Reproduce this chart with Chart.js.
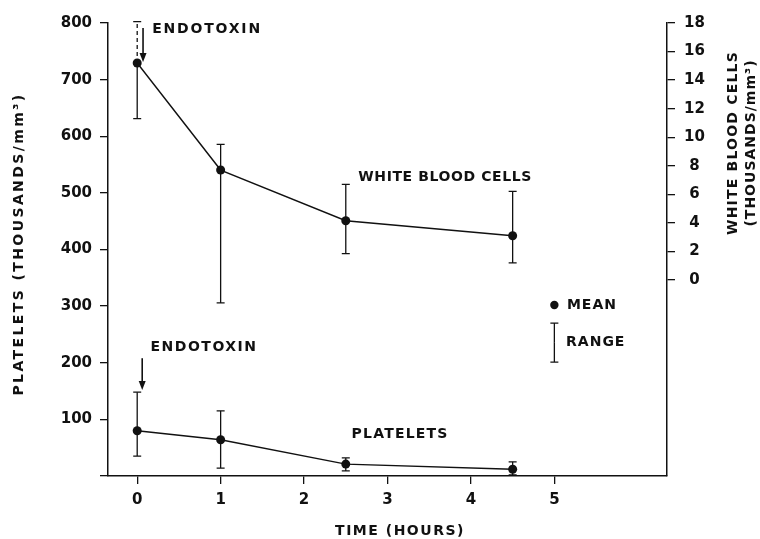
<!DOCTYPE html>
<html>
<head>
<meta charset="utf-8">
<script src="https://cdn.jsdelivr.net/npm/chart.js@4"></script>
<style>
  html, body { margin: 0; padding: 0; background: #fff; }
  #wrap { width: 760px; height: 539px; }
</style>
</head>
<body>
<div id="wrap"><canvas id="chart" width="760" height="539"></canvas></div>
<script>
// ---------- DATA ----------
const hours = [0, 1, 2.5, 4.5];
const hourTicks = [0, 1, 2, 3, 4, 5];

// white blood cells, thousands/mm3 (right axis)
const wbcMean = [15.2, 7.7, 4.15, 3.1];
const wbcLow = [11.3, -1.6, 1.85, 1.2];
const wbcHigh = [18.1, 9.5, 6.7, 6.2];
const wbcTicks = [0, 2, 4, 6, 8, 10, 12, 14, 16, 18];

// platelets, thousands/mm3 (left axis)
const plateletMean = [80, 64, 21, 12];
const plateletLow = [35, 14, 9, 2];
const plateletHigh = [148, 115, 32, 25];
const plateletTicks = [0, 100, 200, 300, 400, 500, 600, 700, 800];

const INK = "#111";
const FONT = "'DejaVu Sans', 'Liberation Sans', sans-serif";

// ---------- HELPERS ----------
function toPoints(xs, ys) {
  return xs.map((x, i) => ({ x: x, y: ys[i] }));
}

function label(ctx, text, x, y, align, spacing) {
  ctx.letterSpacing = (spacing || 1) + "px";
  ctx.textAlign = align || "left";
  ctx.textBaseline = "middle";
  ctx.fillText(text, x, y);
}

function arrowDown(ctx, x, y1, y2) {
  ctx.beginPath();
  ctx.moveTo(x, y1);
  ctx.lineTo(x, y2 - 7);
  ctx.stroke();
  ctx.beginPath();
  ctx.moveTo(x - 3.5, y2 - 9);
  ctx.lineTo(x + 3.5, y2 - 9);
  ctx.lineTo(x, y2);
  ctx.closePath();
  ctx.fill();
}

function rangeBar(ctx, x, yTop, yBottom, yMid, dashedTop) {
  ctx.setLineDash(dashedTop ? [4, 3] : []);
  ctx.beginPath();
  ctx.moveTo(x, yMid);
  ctx.lineTo(x, yTop);
  ctx.stroke();
  ctx.setLineDash([]);
  ctx.beginPath();
  ctx.moveTo(x, yMid);
  ctx.lineTo(x, yBottom);
  ctx.moveTo(x - 4, yTop);
  ctx.lineTo(x + 4, yTop);
  ctx.moveTo(x - 4, yBottom);
  ctx.lineTo(x + 4, yBottom);
  ctx.stroke();
}

// ---------- OVERLAY: RANGES, ARROWS, LABELS ----------
const overlay = {
  id: "overlay",
  afterDatasetsDraw(chart) {
    const ctx = chart.ctx;
    const sx = chart.scales.x, sy = chart.scales.y, sw = chart.scales.y2;
    ctx.save();
    ctx.strokeStyle = INK;
    ctx.fillStyle = INK;
    ctx.lineWidth = 1.3;

    hours.forEach((h, i) => {
      const px = sx.getPixelForValue(h);
      rangeBar(ctx, px, sw.getPixelForValue(wbcHigh[i]), sw.getPixelForValue(wbcLow[i]),
        sw.getPixelForValue(wbcMean[i]), i === 0);
      rangeBar(ctx, px, sy.getPixelForValue(plateletHigh[i]), sy.getPixelForValue(plateletLow[i]),
        sy.getPixelForValue(plateletMean[i]), false);
    });

    // endotoxin arrows
    ctx.lineWidth = 1.6;
    arrowDown(ctx, sx.getPixelForValue(0.07), sy.getPixelForValue(791), sy.getPixelForValue(731));
    arrowDown(ctx, sx.getPixelForValue(0.06), sy.getPixelForValue(208), sy.getPixelForValue(152));

    ctx.font = "bold 14px " + FONT;
    label(ctx, "ENDOTOXIN", sx.getPixelForValue(0.18), sy.getPixelForValue(788), "left", 1.8);
    label(ctx, "ENDOTOXIN", sx.getPixelForValue(0.16), sy.getPixelForValue(228), "left", 1.5);
    label(ctx, "WHITE BLOOD CELLS", sx.getPixelForValue(2.65), sy.getPixelForValue(528), "left", 0.6);
    label(ctx, "PLATELETS", sx.getPixelForValue(2.57), sy.getPixelForValue(74), "left", 1.2);

    // key
    const kx = sx.getPixelForValue(5.0);
    ctx.beginPath();
    ctx.arc(kx, sy.getPixelForValue(302), 4.2, 0, Math.PI * 2);
    ctx.fill();
    ctx.lineWidth = 1.3;
    rangeBar(ctx, kx, sy.getPixelForValue(270), sy.getPixelForValue(201), sy.getPixelForValue(236), false);
    label(ctx, "MEAN", sx.getPixelForValue(5.15), sy.getPixelForValue(302), "left", 1);
    label(ctx, "RANGE", sx.getPixelForValue(5.14), sy.getPixelForValue(236), "left", 1);

    // axis titles
    label(ctx, "TIME (HOURS)", 400, 531, "center", 1.5);

    ctx.save();
    ctx.translate(19, 244);
    ctx.rotate(-Math.PI / 2);
    label(ctx, "PLATELETS (THOUSANDS/mm³)", 0, 0, "center", 2.4);
    ctx.restore();

    ctx.save();
    ctx.translate(733, 143);
    ctx.rotate(-Math.PI / 2);
    label(ctx, "WHITE BLOOD CELLS", 0, 0, "center", 1.2);
    ctx.restore();

    ctx.save();
    ctx.translate(751, 143);
    ctx.rotate(-Math.PI / 2);
    label(ctx, "(THOUSANDS/mm³)", 0, 0, "center", 1);
    ctx.restore();

    ctx.restore();
  }
};

// ---------- CHART ----------
const tickFont = { family: FONT, size: 15, weight: "bold" };
const axisGrid = { drawOnChartArea: false, drawTicks: true, tickLength: 8, color: INK, lineWidth: 1.3 };
const axisBorder = { display: true, color: INK, width: 1.5 };

new Chart(document.getElementById("chart"), {
  type: "line",
  data: {
    datasets: [
      {
        label: "White blood cells",
        data: toPoints(hours, wbcMean),
        yAxisID: "y2",
        borderColor: INK,
        borderWidth: 1.4,
        pointRadius: 4.5,
        pointBackgroundColor: INK,
        pointBorderWidth: 0,
        tension: 0,
      },
      {
        label: "Platelets",
        data: toPoints(hours, plateletMean),
        yAxisID: "y",
        borderColor: INK,
        borderWidth: 1.4,
        pointRadius: 4.5,
        pointBackgroundColor: INK,
        pointBorderWidth: 0,
        tension: 0,
      },
    ],
  },
  options: {
    responsive: false,
    animation: false,
    layout: { padding: { top: 23, left: 0, right: 0, bottom: 0 } },
    plugins: { legend: { display: false }, tooltip: { enabled: false } },
    scales: {
      x: {
        type: "linear",
        min: -0.35,
        max: 6.35,
        afterBuildTicks: (s) => { s.ticks = hourTicks.map((v) => ({ value: v })); },
        afterFit: (s) => { s.height = 63; },
        grid: axisGrid,
        border: axisBorder,
        ticks: { font: tickFont, color: INK, padding: 7, maxRotation: 0 },
      },
      y: {
        position: "left",
        min: 0,
        max: 800,
        afterBuildTicks: (s) => { s.ticks = plateletTicks.map((v) => ({ value: v })); },
        afterFit: (s) => { s.width = 108; },
        grid: axisGrid,
        border: axisBorder,
        ticks: { font: tickFont, color: INK, padding: 8, callback: (v) => (v === 0 ? "" : v) },
      },
      y2: {
        position: "right",
        min: -13.73,
        max: 18,
        afterBuildTicks: (s) => { s.ticks = wbcTicks.map((v) => ({ value: v })); },
        afterFit: (s) => { s.width = 93; },
        grid: axisGrid,
        border: axisBorder,
        ticks: { font: tickFont, color: INK, padding: 9, crossAlign: "center" },
      },
    },
  },
  plugins: [overlay],
});
</script>
</body>
</html>
